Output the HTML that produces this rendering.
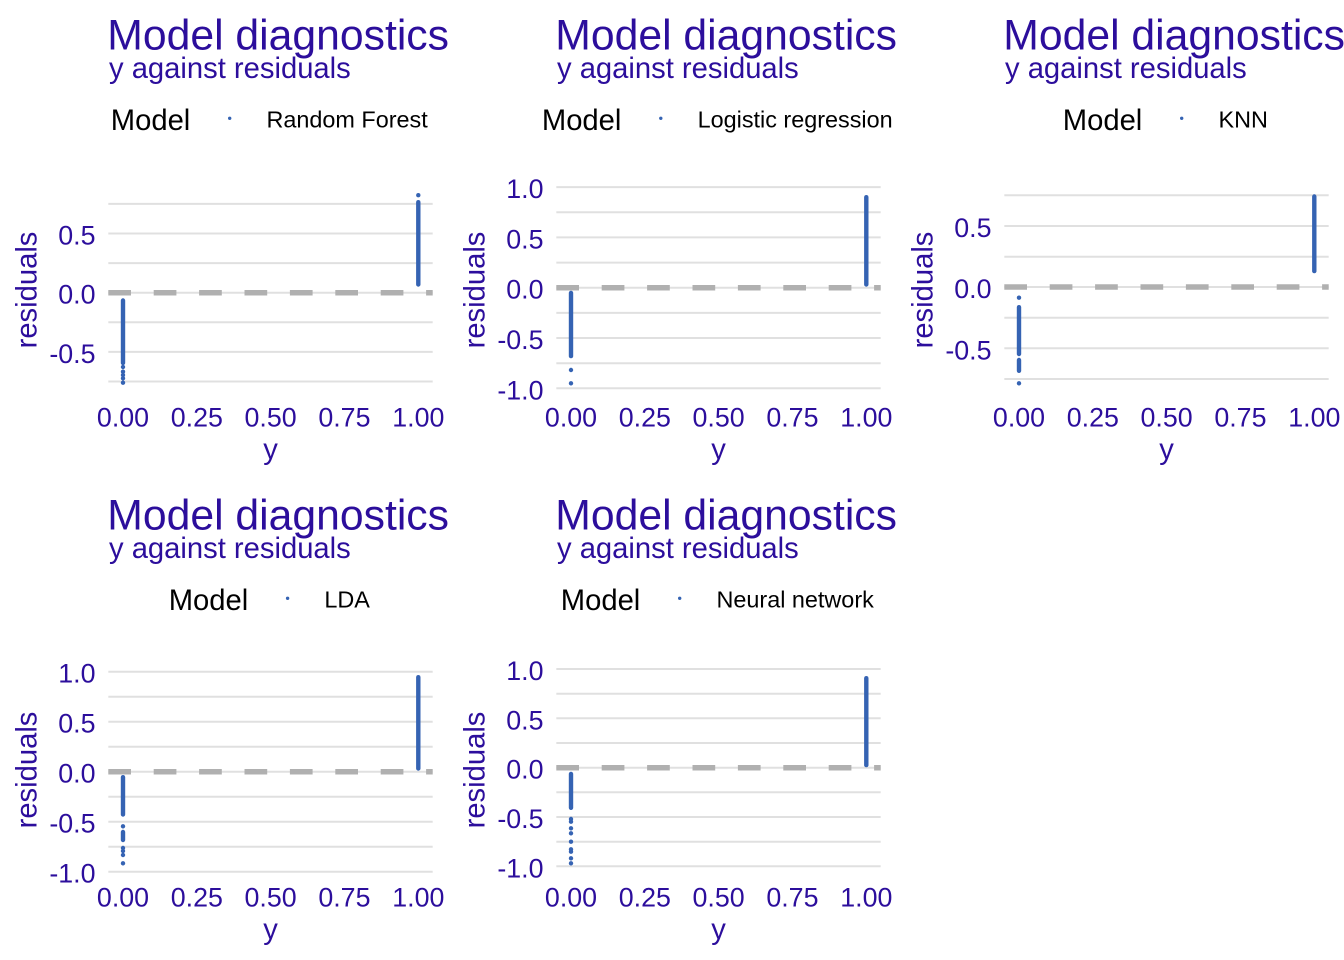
<!DOCTYPE html>
<html>
<head>
<meta charset="utf-8">
<style>
  html, body { margin: 0; padding: 0; background: #ffffff; }
  svg { display: block; }
  text { font-family: "Liberation Sans", Arial, sans-serif; }
  .title { fill: #2c0e9c; font-size: 42.7px; }
  .sub { fill: #2c0e9c; font-size: 29.2px; }
  .axt { fill: #2c0e9c; font-size: 29.2px; }
  .tick { fill: #2c0e9c; font-size: 26.8px; }
  .legt { fill: #000000; font-size: 29.2px; }
  .legl { fill: #000000; font-size: 23.4px; }
  .grid { stroke: #e0e0e0; stroke-width: 2; }
  .dash { stroke: #b0b0b0; stroke-width: 5.5; stroke-dasharray: 22.7 22.7; }
  .col { stroke: #3563b3; stroke-width: 4.4; stroke-linecap: round; }
  .pt { fill: #3563b3; }
</style>
</head>
<body>
<svg width="1344" height="960" viewBox="0 0 1344 960" xmlns="http://www.w3.org/2000/svg">
<rect x="0" y="0" width="1344" height="960" fill="#ffffff"/>

<!-- ============ Panel 1: Random Forest ============ -->
<g transform="translate(0,0)">
  <text class="title" x="107.3" y="49.6">Model diagnostics</text>
  <text class="sub" x="109" y="78">y against residuals</text>
  <text class="legt" x="110.8" y="130">Model</text>
  <circle cx="229.7" cy="118.3" r="1.7" class="pt"/>
  <text class="legl" x="266.5" y="127.7">Random Forest</text>

  <line class="grid" x1="108.3" x2="432.7" y1="203.9" y2="203.9"/>
  <line class="grid" x1="108.3" x2="432.7" y1="233.5" y2="233.5"/>
  <line class="grid" x1="108.3" x2="432.7" y1="263.1" y2="263.1"/>
  <line class="grid" x1="108.3" x2="432.7" y1="292.7" y2="292.7"/>
  <line class="grid" x1="108.3" x2="432.7" y1="322.3" y2="322.3"/>
  <line class="grid" x1="108.3" x2="432.7" y1="351.9" y2="351.9"/>
  <line class="grid" x1="108.3" x2="432.7" y1="381.5" y2="381.5"/>
  <line class="dash" x1="108.3" x2="432.7" y1="292.7" y2="292.7"/>

  <text class="tick" x="95.5" y="244.5" text-anchor="end">0.5</text>
  <text class="tick" x="95.5" y="303.7" text-anchor="end">0.0</text>
  <text class="tick" x="95.5" y="362.9" text-anchor="end">-0.5</text>

  <line class="col" x1="418.3" x2="418.3" y1="202.2" y2="284.5"/>
  <circle class="pt" cx="418.3" cy="195.2" r="2.2"/>
  <line class="col" x1="123" x2="123" y1="300.5" y2="363"/>
  <circle class="pt" cx="123" cy="367" r="2.2"/>
  <circle class="pt" cx="123" cy="371.7" r="2.2"/>
  <circle class="pt" cx="123" cy="375" r="2.2"/>
  <circle class="pt" cx="123" cy="378.3" r="2.2"/>
  <circle class="pt" cx="123" cy="382.7" r="2.2"/>

  <text class="tick" x="123" y="426.7" text-anchor="middle">0.00</text>
  <text class="tick" x="196.8" y="426.7" text-anchor="middle">0.25</text>
  <text class="tick" x="270.6" y="426.7" text-anchor="middle">0.50</text>
  <text class="tick" x="344.4" y="426.7" text-anchor="middle">0.75</text>
  <text class="tick" x="418.3" y="426.7" text-anchor="middle">1.00</text>
  <text class="axt" x="270.5" y="459" text-anchor="middle">y</text>
  <text class="axt" transform="translate(36.5,290) rotate(-90)" x="0" y="0" text-anchor="middle">residuals</text>
</g>

<!-- ============ Panel 2: Logistic regression ============ -->
<g transform="translate(448,0)">
  <text class="title" x="107.3" y="49.6">Model diagnostics</text>
  <text class="sub" x="109" y="78">y against residuals</text>
  <text class="legt" x="93.9" y="130">Model</text>
  <circle cx="212.8" cy="118.3" r="1.7" class="pt"/>
  <text class="legl" x="249.6" y="127.7">Logistic regression</text>

  <line class="grid" x1="108.3" x2="432.7" y1="187.1" y2="187.1"/>
  <line class="grid" x1="108.3" x2="432.7" y1="212.3" y2="212.3"/>
  <line class="grid" x1="108.3" x2="432.7" y1="237.4" y2="237.4"/>
  <line class="grid" x1="108.3" x2="432.7" y1="262.6" y2="262.6"/>
  <line class="grid" x1="108.3" x2="432.7" y1="287.7" y2="287.7"/>
  <line class="grid" x1="108.3" x2="432.7" y1="312.9" y2="312.9"/>
  <line class="grid" x1="108.3" x2="432.7" y1="338" y2="338"/>
  <line class="grid" x1="108.3" x2="432.7" y1="363.2" y2="363.2"/>
  <line class="grid" x1="108.3" x2="432.7" y1="388.3" y2="388.3"/>
  <line class="dash" x1="108.3" x2="432.7" y1="287.7" y2="287.7"/>

  <text class="tick" x="95.5" y="198.1" text-anchor="end">1.0</text>
  <text class="tick" x="95.5" y="248.4" text-anchor="end">0.5</text>
  <text class="tick" x="95.5" y="298.7" text-anchor="end">0.0</text>
  <text class="tick" x="95.5" y="349" text-anchor="end">-0.5</text>
  <text class="tick" x="95.5" y="399.3" text-anchor="end">-1.0</text>

  <line class="col" x1="418.3" x2="418.3" y1="197.2" y2="284.5"/>
  <line class="col" x1="123" x2="123" y1="292.9" y2="356.1"/>
  <circle class="pt" cx="123" cy="370" r="2.2"/>
  <circle class="pt" cx="123" cy="383.3" r="2.2"/>

  <text class="tick" x="123" y="426.7" text-anchor="middle">0.00</text>
  <text class="tick" x="196.8" y="426.7" text-anchor="middle">0.25</text>
  <text class="tick" x="270.6" y="426.7" text-anchor="middle">0.50</text>
  <text class="tick" x="344.4" y="426.7" text-anchor="middle">0.75</text>
  <text class="tick" x="418.3" y="426.7" text-anchor="middle">1.00</text>
  <text class="axt" x="270.5" y="459" text-anchor="middle">y</text>
  <text class="axt" transform="translate(36.5,290) rotate(-90)" x="0" y="0" text-anchor="middle">residuals</text>
</g>

<!-- ============ Panel 3: KNN ============ -->
<g transform="translate(896,0)">
  <text class="title" x="107.3" y="49.6">Model diagnostics</text>
  <text class="sub" x="109" y="78">y against residuals</text>
  <text class="legt" x="166.8" y="130">Model</text>
  <circle cx="285.7" cy="118.3" r="1.7" class="pt"/>
  <text class="legl" x="322.5" y="127.7">KNN</text>

  <line class="grid" x1="108.3" x2="432.7" y1="195.3" y2="195.3"/>
  <line class="grid" x1="108.3" x2="432.7" y1="226" y2="226"/>
  <line class="grid" x1="108.3" x2="432.7" y1="256.7" y2="256.7"/>
  <line class="grid" x1="108.3" x2="432.7" y1="287" y2="287"/>
  <line class="grid" x1="108.3" x2="432.7" y1="317.7" y2="317.7"/>
  <line class="grid" x1="108.3" x2="432.7" y1="348.3" y2="348.3"/>
  <line class="grid" x1="108.3" x2="432.7" y1="379" y2="379"/>
  <line class="dash" x1="108.3" x2="432.7" y1="287" y2="287"/>

  <text class="tick" x="95.5" y="237" text-anchor="end">0.5</text>
  <text class="tick" x="95.5" y="298" text-anchor="end">0.0</text>
  <text class="tick" x="95.5" y="359.3" text-anchor="end">-0.5</text>

  <line class="col" x1="418.3" x2="418.3" y1="196.5" y2="271.1"/>
  <circle class="pt" cx="123" cy="297.7" r="2.2"/>
  <line class="col" x1="123" x2="123" y1="307.2" y2="354"/>
  <line class="col" x1="123" x2="123" y1="360" y2="370.8"/>
  <circle class="pt" cx="123" cy="383.3" r="2.2"/>

  <text class="tick" x="123" y="426.7" text-anchor="middle">0.00</text>
  <text class="tick" x="196.8" y="426.7" text-anchor="middle">0.25</text>
  <text class="tick" x="270.6" y="426.7" text-anchor="middle">0.50</text>
  <text class="tick" x="344.4" y="426.7" text-anchor="middle">0.75</text>
  <text class="tick" x="418.3" y="426.7" text-anchor="middle">1.00</text>
  <text class="axt" x="270.5" y="459" text-anchor="middle">y</text>
  <text class="axt" transform="translate(36.5,290) rotate(-90)" x="0" y="0" text-anchor="middle">residuals</text>
</g>

<!-- ============ Panel 4: LDA ============ -->
<g transform="translate(0,480)">
  <text class="title" x="107.3" y="49.6">Model diagnostics</text>
  <text class="sub" x="109" y="78">y against residuals</text>
  <text class="legt" x="168.7" y="130">Model</text>
  <circle cx="287.6" cy="118.3" r="1.7" class="pt"/>
  <text class="legl" x="324.4" y="127.7">LDA</text>

  <line class="grid" x1="108.3" x2="432.7" y1="191.7" y2="191.7"/>
  <line class="grid" x1="108.3" x2="432.7" y1="216.7" y2="216.7"/>
  <line class="grid" x1="108.3" x2="432.7" y1="241.7" y2="241.7"/>
  <line class="grid" x1="108.3" x2="432.7" y1="266.7" y2="266.7"/>
  <line class="grid" x1="108.3" x2="432.7" y1="291.7" y2="291.7"/>
  <line class="grid" x1="108.3" x2="432.7" y1="316.7" y2="316.7"/>
  <line class="grid" x1="108.3" x2="432.7" y1="341.7" y2="341.7"/>
  <line class="grid" x1="108.3" x2="432.7" y1="366.7" y2="366.7"/>
  <line class="grid" x1="108.3" x2="432.7" y1="391.7" y2="391.7"/>
  <line class="dash" x1="108.3" x2="432.7" y1="291.7" y2="291.7"/>

  <text class="tick" x="95.5" y="202.7" text-anchor="end">1.0</text>
  <text class="tick" x="95.5" y="252.7" text-anchor="end">0.5</text>
  <text class="tick" x="95.5" y="302.7" text-anchor="end">0.0</text>
  <text class="tick" x="95.5" y="352.7" text-anchor="end">-0.5</text>
  <text class="tick" x="95.5" y="402.7" text-anchor="end">-1.0</text>

  <line class="col" x1="418.3" x2="418.3" y1="197.2" y2="288.5"/>
  <line class="col" x1="123" x2="123" y1="297.2" y2="334.5"/>
  <circle class="pt" cx="123" cy="346.3" r="2.2"/>
  <line class="col" x1="123" x2="123" y1="352" y2="360"/>
  <circle class="pt" cx="123" cy="368" r="2.2"/>
  <circle class="pt" cx="123" cy="371" r="2.2"/>
  <circle class="pt" cx="123" cy="375" r="2.2"/>
  <circle class="pt" cx="123" cy="383.3" r="2.2"/>

  <text class="tick" x="123" y="426.7" text-anchor="middle">0.00</text>
  <text class="tick" x="196.8" y="426.7" text-anchor="middle">0.25</text>
  <text class="tick" x="270.6" y="426.7" text-anchor="middle">0.50</text>
  <text class="tick" x="344.4" y="426.7" text-anchor="middle">0.75</text>
  <text class="tick" x="418.3" y="426.7" text-anchor="middle">1.00</text>
  <text class="axt" x="270.5" y="459" text-anchor="middle">y</text>
  <text class="axt" transform="translate(36.5,290) rotate(-90)" x="0" y="0" text-anchor="middle">residuals</text>
</g>

<!-- ============ Panel 5: Neural network ============ -->
<g transform="translate(448,480)">
  <text class="title" x="107.3" y="49.6">Model diagnostics</text>
  <text class="sub" x="109" y="78">y against residuals</text>
  <text class="legt" x="112.8" y="130">Model</text>
  <circle cx="231.7" cy="118.3" r="1.7" class="pt"/>
  <text class="legl" x="268.5" y="127.7">Neural network</text>

  <line class="grid" x1="108.3" x2="432.7" y1="189" y2="189"/>
  <line class="grid" x1="108.3" x2="432.7" y1="213.7" y2="213.7"/>
  <line class="grid" x1="108.3" x2="432.7" y1="238.3" y2="238.3"/>
  <line class="grid" x1="108.3" x2="432.7" y1="263" y2="263"/>
  <line class="grid" x1="108.3" x2="432.7" y1="287.7" y2="287.7"/>
  <line class="grid" x1="108.3" x2="432.7" y1="312.3" y2="312.3"/>
  <line class="grid" x1="108.3" x2="432.7" y1="337" y2="337"/>
  <line class="grid" x1="108.3" x2="432.7" y1="361.7" y2="361.7"/>
  <line class="grid" x1="108.3" x2="432.7" y1="386.3" y2="386.3"/>
  <line class="dash" x1="108.3" x2="432.7" y1="287.7" y2="287.7"/>

  <text class="tick" x="95.5" y="200" text-anchor="end">1.0</text>
  <text class="tick" x="95.5" y="249.3" text-anchor="end">0.5</text>
  <text class="tick" x="95.5" y="298.7" text-anchor="end">0.0</text>
  <text class="tick" x="95.5" y="348" text-anchor="end">-0.5</text>
  <text class="tick" x="95.5" y="397.3" text-anchor="end">-1.0</text>

  <line class="col" x1="418.3" x2="418.3" y1="198.2" y2="285.1"/>
  <line class="col" x1="123" x2="123" y1="293.9" y2="327.8"/>
  <circle class="pt" cx="123" cy="339" r="2.2"/>
  <circle class="pt" cx="123" cy="341.7" r="2.2"/>
  <circle class="pt" cx="123" cy="348.3" r="2.2"/>
  <circle class="pt" cx="123" cy="353.3" r="2.2"/>
  <circle class="pt" cx="123" cy="361.7" r="2.2"/>
  <circle class="pt" cx="123" cy="369.3" r="2.2"/>
  <circle class="pt" cx="123" cy="371.7" r="2.2"/>
  <circle class="pt" cx="123" cy="378.3" r="2.2"/>
  <circle class="pt" cx="123" cy="383.3" r="2.2"/>

  <text class="tick" x="123" y="426.7" text-anchor="middle">0.00</text>
  <text class="tick" x="196.8" y="426.7" text-anchor="middle">0.25</text>
  <text class="tick" x="270.6" y="426.7" text-anchor="middle">0.50</text>
  <text class="tick" x="344.4" y="426.7" text-anchor="middle">0.75</text>
  <text class="tick" x="418.3" y="426.7" text-anchor="middle">1.00</text>
  <text class="axt" x="270.5" y="459" text-anchor="middle">y</text>
  <text class="axt" transform="translate(36.5,290) rotate(-90)" x="0" y="0" text-anchor="middle">residuals</text>
</g>
</svg>
</body>
</html>
